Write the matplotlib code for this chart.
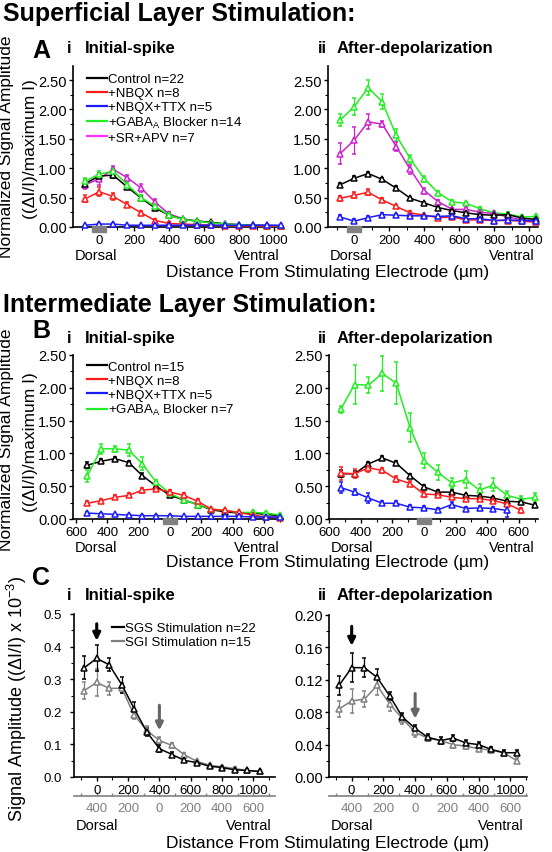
import matplotlib
matplotlib.use("Agg")
import matplotlib.pyplot as plt
import matplotlib.transforms as mtransforms
from matplotlib.lines import Line2D
from matplotlib.patches import Rectangle
from matplotlib.ticker import MultipleLocator, FuncFormatter, FormatStrFormatter

plt.rcParams['font.family'] = ['Liberation Sans', 'DejaVu Sans']

W, H = 552, 853

BLACK, RED, BLUE, GREEN, MAGENTA, GRAY = "#000000", "#ff1a1a", "#1a1aff", "#22ee22", "#cc22cc", "#808080"

# distance from stimulating electrode (um), negative = dorsal
a_x = [-80, 0, 80, 160, 240, 320, 400, 480, 560, 640, 720, 800, 880, 960, 1040]
b_x = [-528, -440, -352, -264, -176, -88, 0, 88, 176, 264, 352, 440, 528, 616, 704]
c_x = a_x

# --- A i: superficial stimulation, initial spike
ai_ctrl = [0.74, 0.87, 0.88, 0.68, 0.49, 0.32, 0.20, 0.13, 0.10, 0.08, 0.05, 0.04, 0.03, 0.02, 0.02]
ai_ctrl_e = [0.05, 0.05, 0.04, 0.04, 0.03, 0.03, 0.02, 0.02, 0.02, 0.01, 0.01, 0.01, 0.01, 0.01, 0.01]
ai_nbqx = [0.48, 0.60, 0.52, 0.38, 0.24, 0.11, 0.06, 0.05, 0.04, 0.03, 0.02, 0.02, 0.02, 0.02, 0.02]
ai_nbqx_e = [0.06, 0.08, 0.06, 0.04, 0.03, 0.02, 0.02, 0.01, 0.01, 0.01, 0.01, 0.01, 0.01, 0.01, 0.01]
ai_ttx = [0.03, 0.05, 0.05, 0.03, 0.03, 0.03, 0.03, 0.03, 0.03, 0.03, 0.03, 0.03, 0.03, 0.03, 0.03]
ai_ttx_e = [0.01] * 15
ai_gaba = [0.78, 0.90, 0.95, 0.72, 0.50, 0.35, 0.20, 0.13, 0.10, 0.07, 0.05, 0.04, 0.03, 0.02, 0.02]
ai_gaba_e = [0.06, 0.06, 0.05, 0.05, 0.04, 0.03, 0.02, 0.02, 0.02, 0.01, 0.01, 0.01, 0.01, 0.01, 0.01]
ai_srapv = [0.72, 0.82, 0.98, 0.84, 0.66, 0.42, 0.22, 0.14, 0.10, 0.08, 0.05, 0.04, 0.03, 0.03, 0.02]
ai_srapv_e = [0.08, 0.10, 0.05, 0.05, 0.07, 0.05, 0.03, 0.02, 0.02, 0.01, 0.01, 0.01, 0.01, 0.01, 0.01]

# --- A ii: superficial stimulation, after-depolarization
aii_ctrl = [0.72, 0.83, 0.91, 0.81, 0.66, 0.49, 0.41, 0.33, 0.28, 0.24, 0.21, 0.20, 0.21, 0.15, 0.13]
aii_ctrl_e = [0.03, 0.03, 0.03, 0.03, 0.03, 0.02, 0.02, 0.02, 0.02, 0.02, 0.02, 0.02, 0.02, 0.02, 0.02]
aii_nbqx = [0.49, 0.54, 0.59, 0.46, 0.35, 0.24, 0.20, 0.16, 0.17, 0.12, 0.12, 0.11, 0.11, 0.10, 0.08]
aii_nbqx_e = [0.04, 0.05, 0.05, 0.03, 0.03, 0.03, 0.02, 0.02, 0.02, 0.02, 0.02, 0.02, 0.02, 0.02, 0.02]
aii_ttx = [0.17, 0.10, 0.16, 0.21, 0.20, 0.19, 0.19, 0.18, 0.19, 0.14, 0.14, 0.11, 0.12, 0.11, 0.10]
aii_ttx_e = [0.03, 0.04, 0.03, 0.02, 0.02, 0.02, 0.02, 0.02, 0.02, 0.02, 0.02, 0.02, 0.02, 0.02, 0.03]
aii_gaba = [1.82, 2.05, 2.37, 2.13, 1.56, 1.16, 0.82, 0.58, 0.43, 0.40, 0.31, 0.24, 0.22, 0.17, 0.18]
aii_gaba_e = [0.10, 0.15, 0.13, 0.13, 0.10, 0.07, 0.05, 0.03, 0.03, 0.03, 0.03, 0.03, 0.03, 0.03, 0.03]
aii_srapv = [1.25, 1.48, 1.79, 1.75, 1.37, 0.98, 0.62, 0.43, 0.30, 0.30, 0.25, 0.23, 0.17, 0.12, 0.11]
aii_srapv_e = [0.18, 0.23, 0.13, 0.05, 0.08, 0.08, 0.05, 0.03, 0.03, 0.03, 0.03, 0.03, 0.03, 0.03, 0.03]

# --- B i: intermediate stimulation, initial spike
bi_ctrl = [0.82, 0.88, 0.92, 0.86, 0.66, 0.50, 0.36, 0.29, 0.22, 0.14, 0.11, 0.09, 0.09, 0.07, 0.05]
bi_ctrl_e = [0.05, 0.03, 0.03, 0.03, 0.04, 0.03, 0.03, 0.02, 0.02, 0.02, 0.02, 0.02, 0.02, 0.02, 0.02]
bi_nbqx = [0.24, 0.28, 0.33, 0.36, 0.44, 0.46, 0.41, 0.36, 0.27, 0.15, 0.13, 0.10, 0.06, 0.03, 0.02]
bi_nbqx_e = [0.03, 0.03, 0.03, 0.03, 0.04, 0.03, 0.03, 0.04, 0.03, 0.02, 0.02, 0.02, 0.02, 0.01, 0.01]
bi_ttx = [0.09, 0.08, 0.07, 0.06, 0.05, 0.05, 0.05, 0.04, 0.04, 0.04, 0.04, 0.04, 0.03, 0.03, 0.03]
bi_ttx_e = [0.01] * 15
bi_gaba = [0.66, 1.07, 1.07, 1.05, 0.84, 0.56, 0.39, 0.29, 0.22, 0.15, 0.13, 0.10, 0.10, 0.09, 0.06]
bi_gaba_e = [0.09, 0.08, 0.05, 0.09, 0.10, 0.04, 0.03, 0.03, 0.03, 0.02, 0.02, 0.02, 0.02, 0.02, 0.02]

# --- B ii: intermediate stimulation, after-depolarization
bii_ctrl = [0.69, 0.69, 0.84, 0.93, 0.85, 0.66, 0.49, 0.41, 0.41, 0.36, 0.35, 0.32, 0.27, 0.26, 0.21]
bii_ctrl_e = [0.05, 0.04, 0.03, 0.03, 0.03, 0.03, 0.03, 0.03, 0.03, 0.02, 0.02, 0.02, 0.02, 0.02, 0.02]
bii_nbqx = [0.70, 0.69, 0.78, 0.74, 0.61, 0.54, 0.38, 0.37, 0.33, 0.31, 0.31, 0.28, 0.23, 0.13]
bii_nbqx_e = [0.10, 0.07, 0.06, 0.04, 0.04, 0.04, 0.04, 0.03, 0.03, 0.03, 0.03, 0.03, 0.03, 0.04]
bii_ttx = [0.48, 0.41, 0.32, 0.24, 0.24, 0.18, 0.17, 0.14, 0.22, 0.16, 0.17, 0.16, 0.13]
bii_ttx_e = [0.08, 0.04, 0.07, 0.03, 0.03, 0.03, 0.03, 0.03, 0.04, 0.03, 0.03, 0.03, 0.10]
bii_gaba = [1.67, 2.05, 2.04, 2.22, 2.07, 1.39, 0.89, 0.71, 0.55, 0.60, 0.44, 0.52, 0.36, 0.30, 0.33]
bii_gaba_e = [0.06, 0.30, 0.12, 0.27, 0.32, 0.22, 0.12, 0.11, 0.08, 0.13, 0.10, 0.10, 0.06, 0.05, 0.07]

# --- C: absolute amplitudes, SGS vs SGI stimulation
ci_sgs = [0.335, 0.364, 0.344, 0.283, 0.209, 0.138, 0.087, 0.069, 0.051, 0.044, 0.033, 0.029, 0.022, 0.020, 0.017]
ci_sgs_e = [0.035, 0.040, 0.020, 0.025, 0.020, 0.012, 0.010, 0.008, 0.006, 0.005, 0.005, 0.004, 0.004, 0.004, 0.003]
ci_sgi = [0.265, 0.290, 0.272, 0.272, 0.189, 0.143, 0.112, 0.097, 0.068, 0.048, 0.036, 0.031, 0.026, 0.020, 0.017]
ci_sgi_e = [0.025, 0.040, 0.020, 0.015, 0.012, 0.012, 0.010, 0.008, 0.006, 0.005, 0.005, 0.004, 0.004, 0.004, 0.003]
cii_sgs = [0.113, 0.135, 0.135, 0.123, 0.100, 0.074, 0.060, 0.049, 0.045, 0.048, 0.042, 0.040, 0.034, 0.030, 0.030]
cii_sgs_e = [0.012, 0.018, 0.012, 0.010, 0.005, 0.005, 0.004, 0.004, 0.004, 0.004, 0.004, 0.003, 0.003, 0.003, 0.003]
cii_sgi = [0.084, 0.094, 0.096, 0.113, 0.090, 0.072, 0.055, 0.048, 0.045, 0.040, 0.038, 0.035, 0.033, 0.030, 0.020]
cii_sgi_e = [0.010, 0.015, 0.010, 0.012, 0.008, 0.006, 0.005, 0.004, 0.004, 0.004, 0.004, 0.003, 0.003, 0.003, 0.003]

legend_a = ["Control n=22", "+NBQX n=8", "+NBQX+TTX n=5",
            r"+GABA$_{\mathregular{A}}$ Blocker n=14", "+SR+APV n=7"]
legend_b = ["Control n=15", "+NBQX n=8", "+NBQX+TTX n=5",
            r"+GABA$_{\mathregular{A}}$ Blocker n=7"]
legend_c = ["SGS Stimulation n=22", "SGI Stimulation n=15"]

fig = plt.figure(figsize=(W / 100, H / 100), dpi=100)


def rect(l, t, r, b):
    return [l / W, 1 - b / H, (r - l) / W, (b - t) / H]


def ftext(x, y, s, **kw):
    fig.text(x / W, 1 - y / H, s, **kw)


def style(ax, xlim, ylim, ymaj, ymin, yfmt, absx=False, xsize=9.5, ysize=10.5, ypad=1.5):
    ax.set_xlim(*xlim)
    ax.set_ylim(*ylim)
    for s in ("top", "right"):
        ax.spines[s].set_visible(False)
    for s in ("left", "bottom"):
        ax.spines[s].set_linewidth(1.2)
    ax.xaxis.set_major_locator(MultipleLocator(200))
    ax.xaxis.set_minor_locator(MultipleLocator(100))
    ax.yaxis.set_major_locator(MultipleLocator(ymaj))
    ax.yaxis.set_minor_locator(MultipleLocator(ymin))
    ax.yaxis.set_major_formatter(FormatStrFormatter(yfmt))
    if absx:
        ax.xaxis.set_major_formatter(FuncFormatter(lambda v, p: f"{abs(v):.0f}"))
    ax.tick_params(which="major", length=3, width=1)
    ax.tick_params(which="minor", length=2, width=0.8)
    ax.tick_params(axis="x", labelsize=xsize, pad=2)
    ax.tick_params(axis="y", labelsize=ysize, pad=ypad)


def series(ax, x, y, e, color):
    ax.errorbar(x[:len(y)], y, yerr=e, color=color, lw=1.1, marker="^", ms=5,
                mfc="white", mec=color, mew=1.1, capsize=1.6, elinewidth=0.9,
                capthick=0.9, clip_on=False, zorder=3)


def electrode(ax, width=80):
    tr = mtransforms.blended_transform_factory(ax.transData, ax.transAxes)
    ax.add_patch(Rectangle((-width / 2, -0.03), width, 0.035, transform=tr,
                           color=GRAY, clip_on=False, zorder=5))


def dorsal_ventral(ax, y):
    bb = ax.get_position()
    fig.text(bb.x0 + 2 / W, 1 - y / H, "Dorsal", fontsize=10.5, va="baseline", ha="left")
    fig.text(bb.x1 - 3 / W, 1 - y / H, "Ventral", fontsize=10.5, va="baseline", ha="right")


def legend(ax, labels, colors, anchor, hl=1.5):
    handles = [Line2D([], [], color=c, lw=1.6) for c in colors]
    ax.legend(handles, labels, loc="upper left", bbox_to_anchor=anchor, frameon=False,
              fontsize=9.5, handlelength=hl, handletextpad=0.1, labelspacing=0.12,
              borderpad=0, borderaxespad=0)


# ---------------- Row A
ax = fig.add_axes(rect(73, 67, 283, 228))
style(ax, (-150, 1050), (0, 2.74), 0.5, 0.25, "%.2f")
series(ax, a_x, ai_srapv, ai_srapv_e, MAGENTA)
series(ax, a_x, ai_ctrl, ai_ctrl_e, BLACK)
series(ax, a_x, ai_gaba, ai_gaba_e, GREEN)
series(ax, a_x, ai_nbqx, ai_nbqx_e, RED)
series(ax, a_x, ai_ttx, ai_ttx_e, BLUE)
electrode(ax)
legend(ax, legend_a, [BLACK, RED, BLUE, GREEN, "#ff33ff"], (0.067, 0.955))
dorsal_ventral(ax, 260)

ax = fig.add_axes(rect(328, 67, 538, 228))
style(ax, (-150, 1050), (0, 2.74), 0.5, 0.25, "%.2f")
series(ax, a_x, aii_gaba, aii_gaba_e, GREEN)
series(ax, a_x, aii_srapv, aii_srapv_e, MAGENTA)
series(ax, a_x, aii_ctrl, aii_ctrl_e, BLACK)
series(ax, a_x, aii_nbqx, aii_nbqx_e, RED)
series(ax, a_x, aii_ttx, aii_ttx_e, BLUE)
electrode(ax)
dorsal_ventral(ax, 260)

# ---------------- Row B
ax = fig.add_axes(rect(73, 356, 283, 520))
style(ax, (-620, 722), (0, 2.5), 0.5, 0.25, "%.2f", absx=True)
series(ax, b_x, bi_ctrl, bi_ctrl_e, BLACK)
series(ax, b_x, bi_gaba, bi_gaba_e, GREEN)
series(ax, b_x, bi_nbqx, bi_nbqx_e, RED)
series(ax, b_x, bi_ttx, bi_ttx_e, BLUE)
electrode(ax, 90)
legend(ax, legend_b, [BLACK, RED, BLUE, GREEN], (0.067, 0.965))
dorsal_ventral(ax, 552)

ax = fig.add_axes(rect(329, 356, 538, 520))
style(ax, (-602, 722), (0, 2.5), 0.5, 0.25, "%.2f", absx=True)
series(ax, b_x, bii_gaba, bii_gaba_e, GREEN)
series(ax, b_x, bii_ctrl, bii_ctrl_e, BLACK)
series(ax, b_x, bii_nbqx, bii_nbqx_e, RED)
series(ax, b_x, bii_ttx, bii_ttx_e, BLUE)
electrode(ax, 90)
dorsal_ventral(ax, 552)


# ---------------- Row C
def panel_c(pos, xlim, ymax, ymaj, ymin, yfmt, ysize, ypad,
            sgs, sgs_e, sgi, sgi_e, arr_k, arr_g):
    ax = fig.add_axes(rect(*pos))
    style(ax, xlim, (0, ymax), ymaj, ymin, yfmt, ysize=ysize, ypad=ypad)
    series(ax, c_x, sgi, sgi_e, GRAY)
    series(ax, c_x, sgs, sgs_e, BLACK)
    loc = -19 / (pos[3] - pos[1])
    sec = ax.secondary_xaxis(loc, functions=(lambda v: v - 400, lambda v: v + 400))
    sec.set_xticks([-400, -200, 0, 200, 400, 600])
    sec.xaxis.set_major_formatter(FuncFormatter(lambda v, p: f"{abs(v):.0f}"))
    sec.xaxis.set_minor_locator(MultipleLocator(100))
    sec.spines["bottom"].set_color(GRAY)
    sec.spines["bottom"].set_linewidth(1.2)
    sec.tick_params(which="both", colors=GRAY, direction="in", labelsize=9.5, pad=4,
                    length=3, width=1)
    sec.tick_params(which="minor", length=2)
    for xv, (y0, y1), col in ((0, arr_k, BLACK), (400, arr_g, "#666666")):
        ax.annotate("", xy=(xv, y1), xytext=(xv, y0),
                    arrowprops=dict(arrowstyle="-|>", color=col, lw=2.2,
                                    mutation_scale=11, shrinkA=0, shrinkB=0))
    dorsal_ventral(ax, 830)
    return ax


ax = panel_c((74, 615, 275, 778), (-145, 1138), 0.5, 0.1, 0.05, "%.1f", 9.5, 6,
             ci_sgs, ci_sgs_e, ci_sgi, ci_sgi_e, (0.47, 0.418), (0.22, 0.143))
legend(ax, legend_c, [BLACK, GRAY], (0.19, 0.95), hl=0.9)
panel_c((329, 616, 527, 778), (-143, 1105), 0.2, 0.04, 0.02, "%.2f", 10.5, 1.5,
        cii_sgs, cii_sgs_e, cii_sgi, cii_sgi_e, (0.186, 0.162), (0.103, 0.072))

# ---------------- headings and axis titles
ftext(3, 21, "Superficial Layer Stimulation:", fontsize=18, weight="bold", va="baseline")
ftext(3, 312, "Intermediate Layer Stimulation:", fontsize=18, weight="bold", va="baseline")
for letter, yl, ys in (("A", 58, 53), ("B", 338, 343), ("C", 585, 600)):
    ftext(32, yl, letter, fontsize=18, weight="bold", va="baseline")
    ftext(67, ys, "i", fontsize=12, weight="bold", va="baseline")
    ftext(85, ys, "Initial-spike", fontsize=12, weight="bold", va="baseline")
    ftext(318, ys, "ii", fontsize=12, weight="bold", va="baseline")
    ftext(337, ys, "After-depolarization", fontsize=12, weight="bold", va="baseline")

for yb in (277, 567, 848):
    ftext(328, yb, "Distance From Stimulating Electrode (µm)", fontsize=12.5,
          ha="center", va="baseline")

for yc in (147, 440):
    ftext(7, yc, "Normalized Signal Amplitude", fontsize=12.5, rotation=90,
          ha="center", va="center")
    ftext(31, yc + 2, "((ΔI/I)/maximum I)", fontsize=12.5, rotation=90,
          ha="center", va="center")
ftext(17, 699, r"Signal Amplitude ((ΔI/I) x 10$^{\mathregular{-3}}$)", fontsize=13,
      rotation=90, ha="center", va="center")

fig.savefig("out.png", dpi=100)
